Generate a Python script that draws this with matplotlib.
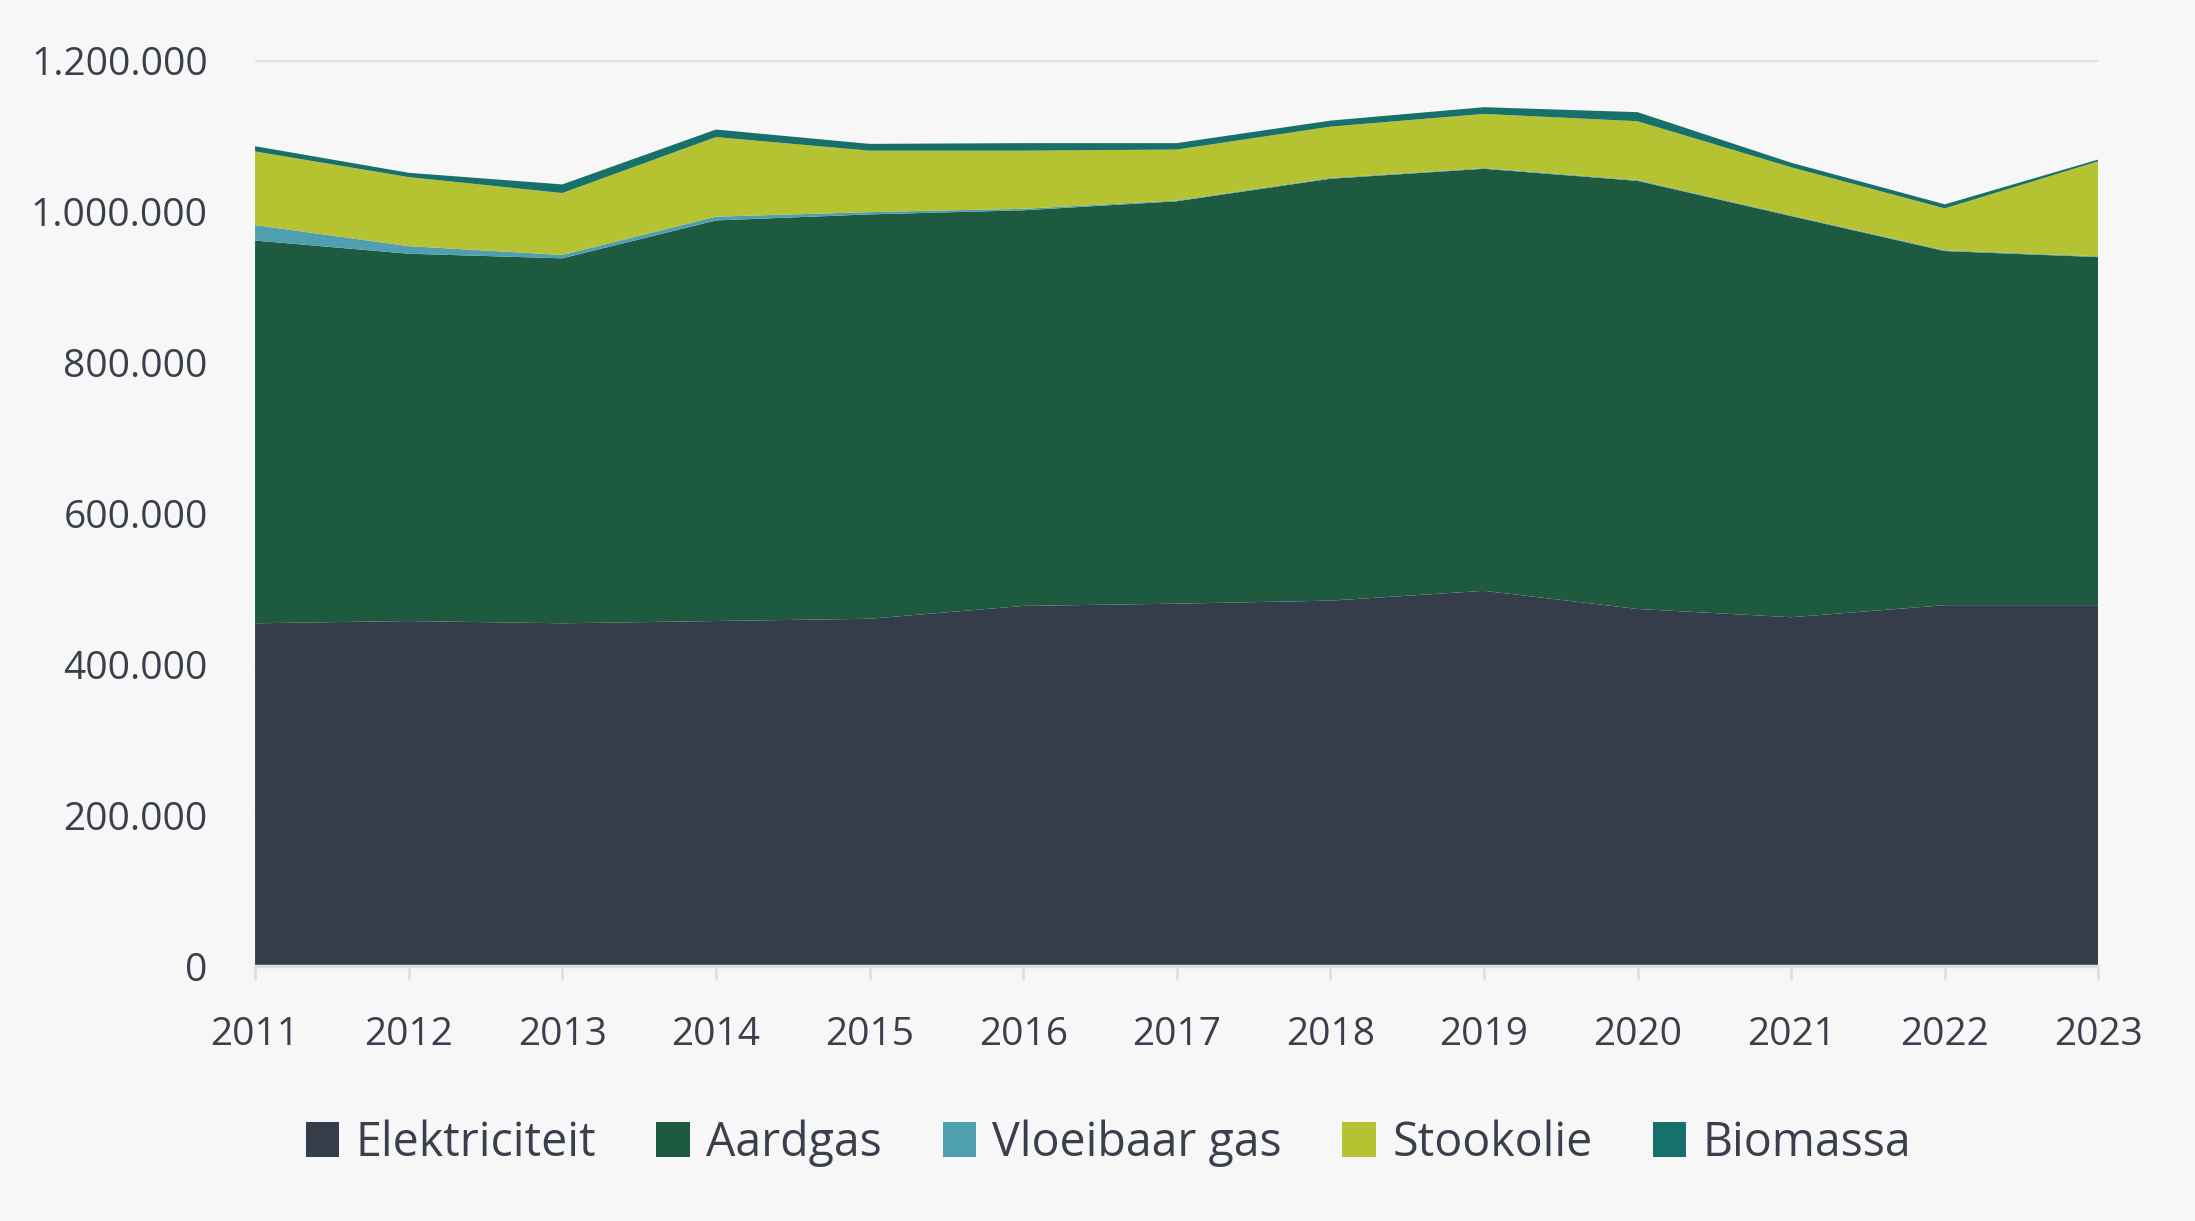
import matplotlib
matplotlib.use("Agg")
from matplotlib import pyplot as plt
from matplotlib.ticker import FuncFormatter

# Jaarlijks verbruik per energiedrager
jaren = [2011, 2012, 2013, 2014, 2015, 2016, 2017, 2018, 2019, 2020, 2021, 2022, 2023]
elektriciteit = [454000, 457000, 454000, 457000, 460000, 477000, 480000, 484000, 497000, 473000, 462000, 478000, 478000]
aardgas = [507000, 486500, 483400, 530600, 535600, 524000, 533000, 558800, 559000, 567000, 531300, 469000, 461000]
vloeibaar_gas = [20500, 10000, 4500, 5000, 3000, 2000, 1000, 1000, 1000, 1000, 1000, 1000, 1000]
stookolie = [97500, 91500, 82000, 105400, 81400, 77000, 67500, 68000, 71700, 78000, 63700, 55500, 126000]
biomassa = [6900, 5700, 11400, 10000, 9000, 10000, 8500, 8000, 8900, 12000, 6000, 5400, 2300]

labels = ["Elektriciteit", "Aardgas", "Vloeibaar gas", "Stookolie", "Biomassa"]
kleuren = ["#363d4a", "#1e5a40", "#4f9fb0", "#b5c232", "#18706a"]

plt.rcParams['font.family'] = ['Open Sans', 'DejaVu Sans']
tekstkleur = '#3a404b'
achtergrond = '#f7f7f7'

fig = plt.figure(figsize=(21.95, 12.21), dpi=100, facecolor=achtergrond)
ax = fig.add_axes([0.1162, 0.2088, 0.8398, 0.7420])
ax.set_facecolor(achtergrond)

ax.stackplot(jaren, elektriciteit, aardgas, vloeibaar_gas, stookolie, biomassa,
             labels=labels, colors=kleuren, lw=0, zorder=2)

ax.set_xlim(jaren[0], jaren[-1])
ax.set_ylim(0, 1200000)
ax.set_xticks(jaren)
ax.set_yticks(range(0, 1200001, 200000))
ax.yaxis.set_major_formatter(FuncFormatter(lambda v, p: f"{int(v):,}".replace(",", ".")))

# raster alleen horizontaal
ax.grid(axis='y', color='#dde0e8', lw=2, zorder=1)
for s in ['top', 'right', 'left']:
    ax.spines[s].set_visible(False)
ax.spines['bottom'].set_color('#dde0e8')
ax.spines['bottom'].set_linewidth(2.5)
ax.spines['bottom'].set_zorder(3)

ax.tick_params(axis='y', length=0, pad=34, labelsize=28, labelcolor=tekstkleur)
ax.tick_params(axis='x', length=10, width=2, color='#dde0e8', pad=26,
               labelsize=28, labelcolor=tekstkleur)

fig.legend(loc='center', bbox_to_anchor=(0.505, 0.064), ncol=5, frameon=False,
           fontsize=33.5, labelcolor=tekstkleur, handlelength=0.72, handleheight=0.76,
           handletextpad=0.35, columnspacing=1.3)

fig.savefig("out.png", dpi=100, facecolor=achtergrond)
